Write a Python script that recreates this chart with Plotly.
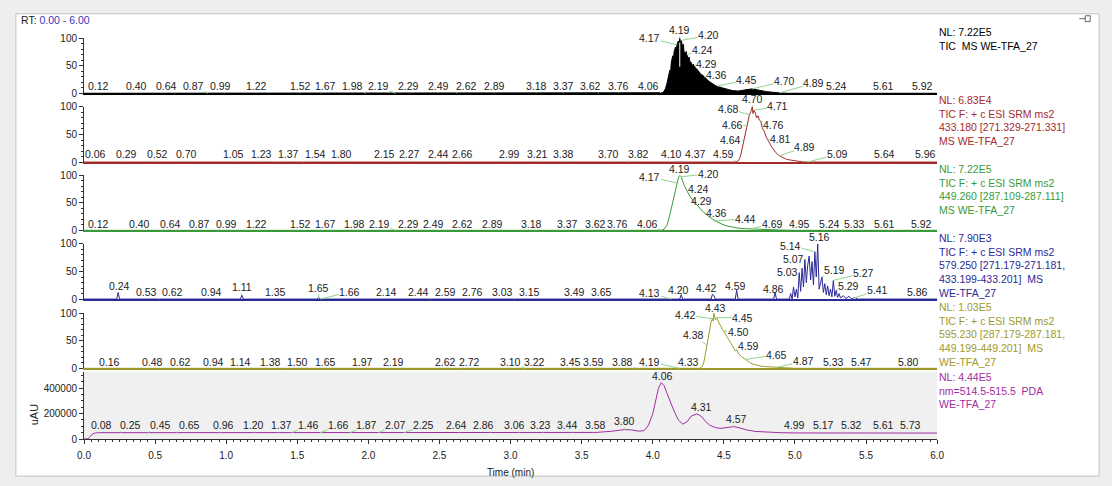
import numpy as np
import plotly.graph_objects as go

W, H = 1112, 486
FONT = "Liberation Sans, Arial, sans-serif"
GREEN = "#8fd48f"

# ---------------- chromatogram traces (time in min) ----------------
# TIC MS, relative abundance (%)
tic_t = [0.00, 4.04, 4.07, 4.08, 4.09, 4.10, 4.11, 4.12, 4.125, 4.13,
         4.14, 4.145, 4.15, 4.16, 4.165, 4.17, 4.18, 4.185, 4.19, 4.195,
         4.20, 4.21, 4.215, 4.22, 4.23, 4.235, 4.24, 4.25, 4.255, 4.26,
         4.27, 4.28, 4.285, 4.29, 4.30, 4.31, 4.32, 4.33, 4.34, 4.35,
         4.36, 4.37, 4.38, 4.39, 4.40, 4.42, 4.44, 4.46, 4.48, 4.50,
         4.53, 4.56, 4.60, 4.64, 4.67, 4.70, 4.73, 4.76, 4.80, 4.85,
         4.90, 4.95, 6.00]
tic_i = [0, 0, 1, 4, 9, 18, 30, 42, 36, 55,
         68, 60, 75, 84, 78, 88, 95, 86, 100, 90,
         96, 84, 89, 76, 72, 76, 70, 62, 66, 58,
         56, 50, 53, 50, 46, 44, 40, 38, 34, 33,
         30, 27, 25, 23, 21, 17, 14, 12, 10, 9,
         7, 5, 4, 5, 7, 8, 7, 5, 3, 1.5,
         0.5, 0, 0]

# SRM 433.180 (%)
srm433_t = [0.00, 4.58, 4.60, 4.61, 4.62, 4.63, 4.64, 4.65, 4.66, 4.67,
            4.68, 4.69, 4.70, 4.705, 4.71, 4.72, 4.73, 4.74, 4.75, 4.76,
            4.77, 4.78, 4.79, 4.80, 4.81, 4.82, 4.83, 4.84, 4.85, 4.86,
            4.87, 4.88, 4.90, 4.92, 4.94, 4.96, 4.98, 5.00, 5.03, 5.06,
            6.00]
srm433_i = [0, 0, 2, 6, 14, 26, 40, 52, 66, 75,
            86, 92, 100, 88, 94, 90, 80, 84, 76, 74,
            62, 58, 50, 44, 40, 34, 30, 26, 22, 20,
            16, 13, 10, 7, 5, 4, 3, 2, 1, 0,
            0]

# SRM 449.260 (%)
srm449_t = [0.00, 4.06, 4.08, 4.10, 4.12, 4.14, 4.16, 4.17, 4.18, 4.19,
            4.20, 4.21, 4.22, 4.24, 4.26, 4.29, 4.32, 4.36, 4.40, 4.44,
            4.48, 4.52, 4.56, 4.60, 4.65, 4.69, 4.75, 4.82, 4.90, 5.00,
            6.00]
srm449_i = [0, 0, 2, 9, 28, 52, 76, 86, 95, 100,
            97, 90, 82, 72, 62, 52, 44, 32, 24, 17,
            12, 8, 6, 4, 3, 2.5, 2, 1, 0.5, 0,
            0]

# SRM 579.250 (%)
srm579_t = [0.00, 0.23, 0.24, 0.25, 1.10, 1.11, 1.12, 1.64, 1.65, 1.66,
            4.19, 4.20, 4.21, 4.41, 4.42, 4.43, 4.44, 4.58, 4.59, 4.60,
            4.85, 4.86, 4.87, 4.96, 4.97, 4.98, 4.99, 5.00, 5.01, 5.02,
            5.03, 5.04, 5.05, 5.06, 5.07, 5.08, 5.09, 5.10, 5.11, 5.12,
            5.13, 5.14, 5.15, 5.16, 5.17, 5.18, 5.19, 5.20, 5.21, 5.22,
            5.23, 5.24, 5.25, 5.26, 5.27, 5.28, 5.29, 5.30, 5.31, 5.32,
            5.34, 5.36, 5.38, 5.40, 5.42, 5.44, 5.46, 6.00]
srm579_i = [0, 0, 12, 0, 0, 7, 0, 0, 3, 0,
            0, 8, 0, 0, 9, 6, 0, 0, 16, 0,
            0, 12, 0, 0, 10, 0, 22, 4, 18, 2,
            48, 14, 56, 22, 72, 30, 62, 78, 35, 68,
            26, 86, 40, 100, 18, 30, 40, 12, 28, 8,
            24, 6, 18, 4, 34, 5, 16, 3, 10, 2,
            6, 1, 5, 0, 3, 0, 0, 0]

# SRM 595.230 (%)
srm595_t = [0.00, 4.33, 4.35, 4.36, 4.37, 4.38, 4.39, 4.40, 4.41, 4.42,
            4.425, 4.43, 4.44, 4.45, 4.46, 4.47, 4.48, 4.49, 4.50, 4.51,
            4.52, 4.53, 4.54, 4.55, 4.56, 4.57, 4.58, 4.59, 4.60, 4.62,
            4.64, 4.66, 4.68, 4.70, 4.73, 4.76, 4.80, 4.85, 4.90, 4.95,
            5.00, 6.00]
srm595_i = [0, 0, 4, 12, 26, 42, 60, 74, 84, 90,
            86, 100, 88, 92, 84, 80, 76, 70, 68, 62,
            58, 54, 50, 46, 40, 38, 32, 34, 28, 22,
            18, 14, 11, 8, 6, 4, 3, 2, 1, 0.5,
            0, 0]

# PDA 514.5-515.5 nm (uAU)
pda_t = [0.00, 0.03, 0.05, 0.07, 0.10, 0.50, 0.96, 1.50, 2.00, 2.50,
         3.00, 3.40, 3.60, 3.70, 3.76, 3.80, 3.85, 3.90, 3.94, 3.97,
         4.00, 4.02, 4.04, 4.06, 4.08, 4.10, 4.12, 4.15, 4.18, 4.21,
         4.24, 4.27, 4.31, 4.34, 4.37, 4.40, 4.44, 4.48, 4.53, 4.57,
         4.61, 4.66, 4.72, 4.80, 4.90, 5.00, 5.50, 6.00]
pda_i = [0, 2000, 30000, 46000, 50000, 50000, 51000, 50000, 50000, 50000,
         50000, 50000, 52000, 60000, 70000, 74000, 72000, 62000, 66000, 110000,
         200000, 300000, 400000, 444000, 420000, 360000, 300000, 220000, 150000, 118000,
         135000, 180000, 198000, 180000, 140000, 110000, 90000, 84000, 92000, 98000,
         88000, 72000, 60000, 54000, 50000, 48000, 48000, 47000]

# ---------------- peak labels: apex RT and where each text sits ----------------
tic_rt = [0.12, 0.40, 0.64, 0.87, 0.99, 1.22, 1.52, 1.67, 1.98, 2.19,
          2.29, 2.49, 2.62, 2.89, 3.18, 3.37, 3.62, 3.76, 4.06,
          4.17, 4.19, 4.20, 4.24, 4.29, 4.36, 4.45, 4.70, 4.89, 5.24, 5.61, 5.92]
tic_lx = [0.10, 0.37, 0.58, 0.77, 0.96, 1.21, 1.52, 1.70, 1.89, 2.07,
          2.28, 2.49, 2.69, 2.89, 3.18, 3.37, 3.56, 3.76, 3.97,
          3.98, 4.19, 4.39, 4.35, 4.38, 4.45, 4.66, 4.93, 5.13, 5.29, 5.62, 5.90]
tic_ly = [13] * 19 + [100, 115, 105, 78, 54, 33, 24, 22, 18, 14, 14, 14]

srm433_rt = [0.06, 0.29, 0.52, 0.70, 1.05, 1.23, 1.37, 1.54, 1.80, 2.15,
             2.27, 2.44, 2.66, 2.99, 3.21, 3.38, 3.70, 3.82, 4.10, 4.37, 4.59,
             4.64, 4.66, 4.68, 4.70, 4.71, 4.76, 4.81, 4.89, 5.09, 5.64, 5.96]
srm433_lx = [0.08, 0.30, 0.52, 0.72, 1.05, 1.25, 1.44, 1.63, 1.81, 2.11,
             2.29, 2.49, 2.66, 2.99, 3.19, 3.37, 3.69, 3.90, 4.13, 4.30, 4.50,
             4.55, 4.56, 4.53, 4.70, 4.88, 4.85, 4.90, 5.07, 5.30, 5.63, 5.92]
srm433_ly = [14] * 21 + [40, 67, 97, 115, 101, 68, 41, 27, 14, 14, 14]

srm449_rt = [0.12, 0.40, 0.64, 0.87, 0.99, 1.22, 1.52, 1.67, 1.98, 2.19,
             2.29, 2.49, 2.62, 2.89, 3.18, 3.37, 3.62, 3.76, 4.06,
             4.17, 4.19, 4.20, 4.24, 4.29, 4.36, 4.44, 4.69, 4.95, 5.24, 5.33, 5.61, 5.92]
srm449_lx = [0.10, 0.39, 0.61, 0.81, 1.00, 1.21, 1.52, 1.70, 1.90, 2.08,
             2.28, 2.46, 2.66, 2.87, 3.15, 3.40, 3.60, 3.75, 3.96,
             3.98, 4.19, 4.39, 4.32, 4.34, 4.45, 4.65, 4.84, 5.03, 5.24, 5.42, 5.63, 5.89]
srm449_ly = [12] * 19 + [97, 112, 103, 75, 53, 31, 21, 12, 12, 12, 12, 12, 12]

srm579_rt = [0.24, 0.53, 0.62, 0.94, 1.11, 1.35, 1.65, 1.66, 2.14, 2.44,
             2.59, 2.76, 3.03, 3.15, 3.49, 3.65, 4.13, 4.20, 4.42, 4.59,
             4.86, 5.03, 5.07, 5.14, 5.16, 5.19, 5.27, 5.29, 5.41, 5.86]
srm579_lx = [0.25, 0.44, 0.62, 0.90, 1.11, 1.35, 1.65, 1.87, 2.13, 2.35,
             2.54, 2.73, 2.94, 3.13, 3.45, 3.64, 3.98, 4.18, 4.38, 4.58,
             4.85, 4.95, 4.99, 4.97, 5.17, 5.28, 5.48, 5.38, 5.58, 5.86]
srm579_ly = [24, 13, 13, 13, 22, 13, 20, 13, 13, 13,
             13, 13, 13, 13, 13, 13, 11, 17, 20, 23,
             19, 49, 73, 97, 112, 52, 47, 23, 16, 13]

srm595_rt = [0.16, 0.48, 0.62, 0.94, 1.14, 1.38, 1.50, 1.65, 1.97, 2.19,
             2.62, 2.72, 3.10, 3.22, 3.45, 3.59, 3.88, 4.19, 4.33,
             4.38, 4.42, 4.43, 4.45, 4.50, 4.59, 4.65, 4.87, 5.33, 5.47, 5.80]
srm595_lx = [0.18, 0.48, 0.68, 0.91, 1.10, 1.31, 1.50, 1.70, 1.96, 2.18,
             2.54, 2.71, 3.00, 3.17, 3.42, 3.58, 3.79, 3.98, 4.25,
             4.29, 4.23, 4.44, 4.63, 4.60, 4.67, 4.87, 5.06, 5.27, 5.47, 5.80]
srm595_ly = [12] * 19 + [60, 97, 110, 92, 66, 41, 25, 13, 12, 12, 12]

pda_rt = [0.08, 0.25, 0.45, 0.65, 0.96, 1.20, 1.37, 1.46, 1.66, 1.87,
          2.07, 2.25, 2.64, 2.86, 3.06, 3.23, 3.44, 3.58, 3.80, 4.06,
          4.31, 4.57, 4.99, 5.17, 5.32, 5.61, 5.73]
pda_lx = [0.12, 0.33, 0.54, 0.74, 0.98, 1.19, 1.39, 1.58, 1.79, 1.99,
          2.19, 2.39, 2.62, 2.81, 3.03, 3.21, 3.40, 3.60, 3.80, 4.07,
          4.34, 4.59, 5.00, 5.20, 5.40, 5.62, 5.81]
pda_ly = [108000] * 18 + [140000, 498000, 256000, 159000] + [108000] * 5

# ---------------- trace descriptions ----------------
NB = "\u00a0"
info_tic = ["NL: 7.22E5", f"TIC {NB}MS WE-TFA_27"]
info_433 = ["NL: 6.83E4", "TIC F: + c ESI SRM ms2", "433.180 [271.329-271.331]", "MS WE-TFA_27"]
info_449 = ["NL: 7.22E5", "TIC F: + c ESI SRM ms2", "449.260 [287.109-287.111]", "MS WE-TFA_27"]
info_579 = ["NL: 7.90E3", "TIC F: + c ESI SRM ms2", "579.250 [271.179-271.181,",
            f"433.199-433.201] {NB}MS", "WE-TFA_27"]
info_595 = ["NL: 1.03E5", "TIC F: + c ESI SRM ms2", "595.230 [287.179-287.181,",
            f"449.199-449.201] {NB}MS", "WE-TFA_27"]
info_pda = ["NL: 4.44E5", f"nm=514.5-515.5 {NB}PDA", "WE-TFA_27"]

panels = [
    dict(t=tic_t, i=tic_i, color="#000000", fill=True, rt=tic_rt, lx=tic_lx, ly=tic_ly,
         info=info_tic, base=89.5, top=33.0, ymax=100, info_y=26.5),
    dict(t=srm433_t, i=srm433_i, color="#a52a2a", fill=False, rt=srm433_rt, lx=srm433_lx,
         ly=srm433_ly, info=info_433, base=160.0, top=103.5, ymax=100, info_y=96.0),
    dict(t=srm449_t, i=srm449_i, color="#3a9a3a", fill=False, rt=srm449_rt, lx=srm449_lx,
         ly=srm449_ly, info=info_449, base=230.0, top=173.5, ymax=100, info_y=166.5),
    dict(t=srm579_t, i=srm579_i, color="#2a2a96", fill=False, rt=srm579_rt, lx=srm579_lx,
         ly=srm579_ly, info=info_579, base=300.5, top=244.0, ymax=100, info_y=237.5),
    dict(t=srm595_t, i=srm595_i, color="#9e9a2a", fill=False, rt=srm595_rt, lx=srm595_lx,
         ly=srm595_ly, info=info_595, base=371.5, top=315.0, ymax=100, info_y=308.5),
    dict(t=pda_t, i=pda_i, color="#a02ca0", fill=False, rt=pda_rt, lx=pda_lx, ly=pda_ly,
         info=info_pda, base=444.0, top=375.0, ymax=530000, info_y=380.5),
]

X_LEFT, X_RIGHT = 78, 942
XDOM = [X_LEFT / W, X_RIGHT / W]


def py(px):
    return 1 - px / H


fig = go.Figure()
layout = dict(
    width=W, height=H, margin=dict(l=0, r=0, t=0, b=0),
    paper_bgcolor="#eeeeee", plot_bgcolor="rgba(0,0,0,0)",
    showlegend=False, font=dict(family=FONT, size=10, color="#222"),
)
annotations = []
shapes = [
    # window frame
    dict(type="rect", xref="paper", yref="paper", x0=9 / W, x1=1106 / W, y0=py(482), y1=py(8),
         fillcolor="white", line=dict(color="#c4c4c4", width=1), layer="below"),
    # PDA plot background
    dict(type="rect", xref="x6 domain", yref="y6 domain", x0=0, x1=1, y0=0, y1=1,
         fillcolor="#f0f0f0", line=dict(width=0), layer="below"),
    # pin icon
    dict(type="line", xref="paper", yref="paper", x0=1086 / W, x1=1092 / W, y0=py(13), y1=py(13),
         line=dict(color="#666", width=1)),
    dict(type="rect", xref="paper", yref="paper", x0=1092 / W, x1=1097 / W, y0=py(16), y1=py(10),
         line=dict(color="#666", width=1)),
]

for k, p in enumerate(panels, start=1):
    sx = "" if k == 1 else str(k)
    xa, ya = f"x{sx}", f"y{sx}"
    last = k == len(panels)
    fig.add_trace(go.Scatter(
        x=p["t"], y=p["i"], mode="lines", xaxis=xa, yaxis=ya,
        line=dict(color=p["color"], width=1),
        fill="tozeroy" if p["fill"] else None,
        fillcolor=p["color"] if p["fill"] else None,
        hoverinfo="skip",
    ))
    xaxis = dict(domain=XDOM, range=[0, 6], anchor=ya, showgrid=False, zeroline=False,
                 showline=True, linewidth=1 if last else 1.5,
                 linecolor="#333" if last else p["color"], fixedrange=True)
    if last:
        xaxis.update(tickmode="linear", tick0=0, dtick=0.5, tickformat=".1f", ticks="outside",
                     ticklen=4, tickcolor="#333", tickfont=dict(size=10, color="#222"),
                     ticklabelstandoff=3,
                     minor=dict(tickmode="linear", tick0=0, dtick=0.05, ticks="outside",
                                ticklen=2, tickcolor="#333"),
                     title=dict(text="Time (min)", font=dict(size=10, color="#222"), standoff=8))
    else:
        xaxis.update(showticklabels=False, ticks="")
    ydtick = 200000 if last else 50
    ydom = [py(p["base"]), py(p["top"])]
    yaxis = dict(domain=ydom, range=[0, p["ymax"]], anchor=xa, showgrid=False, zeroline=False,
                 showline=True, linewidth=1, linecolor="#333", tickmode="linear", tick0=0,
                 dtick=ydtick, tickformat="d", ticks="outside", ticklen=4, tickcolor="#333",
                 tickfont=dict(size=10, color="#222"), fixedrange=True,
                 minor=dict(tickmode="linear", tick0=0, dtick=50000 if last else 10,
                            ticks="outside", ticklen=2, tickcolor="#333"))
    layout[f"xaxis{sx}"] = xaxis
    layout[f"yaxis{sx}"] = yaxis

    # peak labels with their connector lines
    for rt, lx, ly in zip(p["rt"], p["lx"], p["ly"]):
        annotations.append(dict(
            x=rt, y=float(np.interp(rt, p["t"], p["i"])), xref=xa, yref=ya,
            ax=lx, ay=ly, axref=xa, ayref=ya, text=f"{rt:.2f}",
            showarrow=True, arrowhead=0, arrowwidth=1, arrowcolor=GREEN,
            standoff=0, startstandoff=0, borderpad=0,
            font=dict(size=10.5, color="#222", family=FONT),
        ))

    # trace description at the right
    annotations.append(dict(
        xref="paper", yref="paper", x=943 / W, y=py(p["info_y"] - 7),
        xanchor="left", yanchor="top", align="left", showarrow=False,
        text="<br>".join(p["info"]), borderpad=0,
        font=dict(size=10.5, color=p["color"], family=FONT),
    ))

# white marker on the TIC apex
apex_rt = tic_rt[tic_ly.index(max(tic_ly))]
shapes.append(dict(type="line", xref="x", yref="y", x0=apex_rt, x1=apex_rt, y0=48, y1=92,
                   line=dict(color="white", width=1)))

annotations.append(dict(
    xref="paper", yref="paper", x=12 / W, y=py(14), xanchor="left", yanchor="middle",
    showarrow=False, text="RT: <span style='color:#3535b5'>0.00 - 6.00</span>",
    font=dict(size=10.5, color="#222", family=FONT),
))
annotations.append(dict(
    xref="paper", yref="paper", x=27 / W, y=py(419), xanchor="center", yanchor="middle",
    showarrow=False, text="uAU", textangle=-90, font=dict(size=11, color="#222", family=FONT),
))

layout["annotations"] = annotations
layout["shapes"] = shapes
fig.update_layout(**layout)
fig.write_html("out.html")
